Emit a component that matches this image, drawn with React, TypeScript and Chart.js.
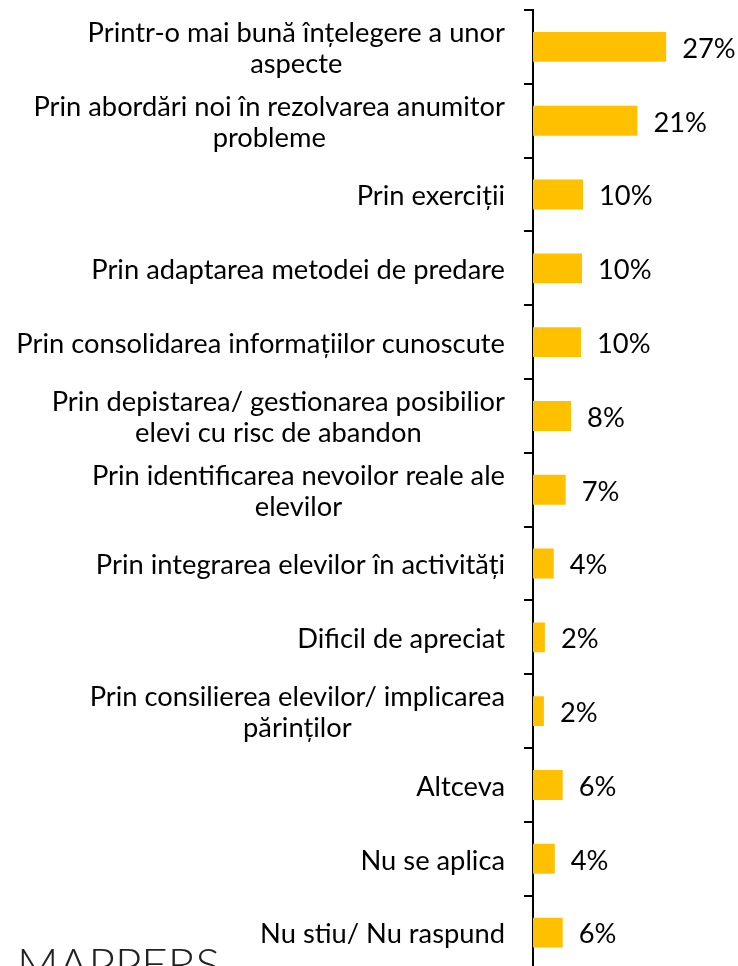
import React, { useEffect, useRef } from "react";
import { Chart, registerables } from "chart.js";

Chart.register(...registerables);

const categories: string[][] = [
  ["Printr-o mai bună înțelegere a unor", "aspecte"],
  ["Prin abordări noi în rezolvarea anumitor", "probleme"],
  ["Prin exerciții"],
  ["Prin adaptarea metodei de predare"],
  ["Prin consolidarea informațiilor cunoscute"],
  ["Prin depistarea/ gestionarea posibilior", "elevi cu risc de abandon"],
  ["Prin identificarea nevoilor reale ale", "elevilor"],
  ["Prin integrarea elevilor în activități"],
  ["Dificil de apreciat"],
  ["Prin consilierea elevilor/ implicarea", "părinților"],
  ["Altceva"],
  ["Nu se aplica"],
  ["Nu stiu/ Nu raspund"],
];

const values: number[] = [26.9, 21.1, 10.1, 9.9, 9.7, 7.7, 6.6, 4.2, 2.4, 2.2, 6.0, 4.4, 6.0];

const FONT_FAMILY = 'Lato, "Open Sans", "DejaVu Sans", sans-serif';
const FONT_SIZE = 27.3;
const BAR_COLOR = "#FFC000";

const labelsPlugin = {
  id: "customLabels",
  afterDatasetsDraw(chart: any) {
    const ctx = chart.ctx;
    const yScale = chart.scales.y;
    const meta = chart.getDatasetMeta(0);
    ctx.save();
    ctx.fillStyle = "#000";
    ctx.font = `${FONT_SIZE}px ${FONT_FAMILY}`;
    ctx.textBaseline = "middle";
    const rightEdge = 505;
    const lineH = 31;
    categories.forEach((lines, i) => {
      const yc = yScale.getPixelForValue(i);
      const widths = lines.map((l) => ctx.measureText(l).width);
      const maxW = Math.max(...widths);
      const cx = rightEdge - maxW / 2;
      ctx.textAlign = "center";
      lines.forEach((l, j) => {
        const y = yc + 2 + (j - (lines.length - 1) / 2) * lineH;
        ctx.fillText(l, cx, y);
      });
      const bar = meta.data[i];
      ctx.textAlign = "left";
      ctx.fillText(Math.round(values[i]) + "%", bar.x + 16, yc + 2);
    });
    ctx.fillStyle = "#222";
    ctx.font = `300 44px ${FONT_FAMILY}`;
    ctx.textBaseline = "alphabetic";
    ctx.textAlign = "left";
    const txt = "MAPPERS";
    const m = ctx.measureText(txt);
    const targetW = 203;
    const sx = targetW / m.width;
    const asc = m.actualBoundingBoxAscent;
    ctx.translate(17, 949 + asc);
    ctx.scale(sx, 1);
    ctx.fillText(txt, 0, 0);
    ctx.restore();
  },
};

export default function App() {
  const canvasRef = useRef<HTMLCanvasElement | null>(null);

  useEffect(() => {
    const canvas = canvasRef.current;
    if (!canvas) return;
    const chart = new Chart(canvas, {
      type: "bar",
      data: {
        labels: categories.map((c) => c.join(" ")),
        datasets: [
          {
            data: values,
            backgroundColor: BAR_COLOR,
            borderWidth: 0,
            categoryPercentage: 1,
            barPercentage: 0.405,
          },
        ],
      },
      options: {
        indexAxis: "y",
        responsive: false,
        animation: false,
        layout: { padding: { left: 0, right: 7, top: 10, bottom: 2.5 } },
        plugins: {
          legend: { display: false },
          tooltip: { enabled: false },
        },
        scales: {
          x: {
            display: false,
            min: 0,
            max: 40,
          },
          y: {
            afterFit: (scale: any) => {
              scale.width = 533;
            },
            ticks: { display: false },
            grid: {
              display: true,
              drawOnChartArea: false,
              drawTicks: true,
              tickLength: 9,
              color: "#000",
              lineWidth: 2,
              offset: true,
            },
            border: { display: true, color: "#000", width: 2 },
          },
        },
      },
      plugins: [labelsPlugin],
    });
    return () => chart.destroy();
  }, []);

  return (
    <div style={{ position: "absolute", left: 0, top: 0, width: 738, height: 966, overflow: "hidden", background: "#fff" }}>
      <canvas ref={canvasRef} width={738} height={972} style={{ width: 738, height: 972, display: "block" }} />
    </div>
  );
}
